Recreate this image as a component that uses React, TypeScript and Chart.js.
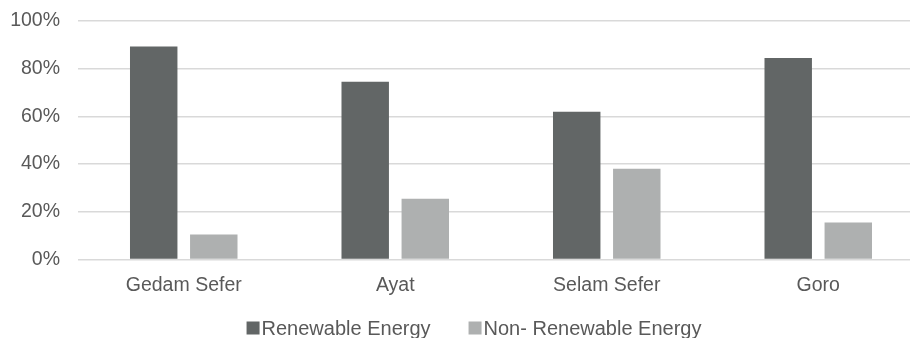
import React, { useEffect, useRef } from "react";
import { Chart, registerables } from "chart.js";

Chart.register(...registerables);

const categories = ["Gedam Sefer", "Ayat", "Selam Sefer", "Goro"];
const renewable = [89.3, 74.5, 62, 84.5];
const nonRenewable = [10.5, 25.5, 38, 15.5];
const seriesNames = ["Renewable Energy", "Non- Renewable Energy"];
const yTicks = [0, 20, 40, 60, 80, 100];

const FONT = "'Liberation Sans', Arial, Helvetica, sans-serif";
const TEXT = "#595959";
const DARK = "#626666";
const LIGHT = "#aeb0b0";

// Draws the legend beneath the axis: small square swatch tight against its label.
const bottomLegend = {
  id: "bottomLegend",
  afterDraw(chart: any) {
    const ctx = chart.ctx;
    const size = 20;
    const box = 13;
    const boxGap = 2;
    const itemGap = 38;
    const cy = 328;
    ctx.save();
    ctx.font = `${size}px ${FONT}`;
    ctx.textBaseline = "middle";
    const items = chart.data.datasets.map((ds: any) => ({
      label: ds.label,
      color: ds.backgroundColor,
      w: box + boxGap + ctx.measureText(ds.label).width,
    }));
    const total = items.reduce((s: number, it: any) => s + it.w, 0) + itemGap * (items.length - 1);
    let x = 474 - total / 2;
    for (const it of items) {
      ctx.fillStyle = it.color;
      ctx.fillRect(x, cy - box / 2, box, box);
      ctx.fillStyle = TEXT;
      ctx.fillText(it.label, x + box + boxGap, cy + 1);
      x += it.w + itemGap;
    }
    ctx.restore();
  },
};

export default function App() {
  const ref = useRef<HTMLCanvasElement | null>(null);

  useEffect(() => {
    if (!ref.current) return;
    const chart = new Chart(ref.current, {
      type: "bar",
      data: {
        labels: categories,
        datasets: [
          { label: seriesNames[0], data: renewable, backgroundColor: DARK },
          { label: seriesNames[1], data: nonRenewable, backgroundColor: LIGHT },
        ],
      },
      options: {
        responsive: false,
        animation: false,
        events: [],
        layout: { padding: { top: 21, left: 0, right: 0, bottom: 0 } },
        datasets: {
          bar: { categoryPercentage: 0.568, barPercentage: 0.79 },
        },
        plugins: {
          legend: { display: false },
          tooltip: { enabled: false },
        },
        scales: {
          x: {
            grid: { display: false },
            border: { display: false },
            ticks: {
              color: TEXT,
              font: { family: FONT, size: 19.5 },
              padding: 6,
              maxRotation: 0,
            },
            afterFit(scale: any) {
              scale.height = 78.5;
            },
          },
          y: {
            min: 0,
            max: 100,
            afterBuildTicks(scale: any) {
              scale.ticks = yTicks.map((v) => ({ value: v }));
            },
            grid: { color: "#d9d9d9", lineWidth: 1.5, drawTicks: false },
            border: { display: false },
            ticks: {
              color: TEXT,
              font: { family: FONT, size: 19.5 },
              padding: 18,
              callback: (v: any) => `${v}%`,
            },
            afterFit(scale: any) {
              scale.width = 78;
              scale.paddingTop = 0;
              scale.paddingBottom = 0;
            },
          },
        },
      },
      plugins: [bottomLegend],
    });
    return () => chart.destroy();
  }, []);

  return (
    <div
      style={{
        position: "fixed",
        left: 0,
        top: 0,
        width: 910,
        height: 338,
        overflow: "hidden",
        background: "#fff",
      }}
    >
      <canvas ref={ref} width={924} height={338} style={{ display: "block" }} />
    </div>
  );
}
